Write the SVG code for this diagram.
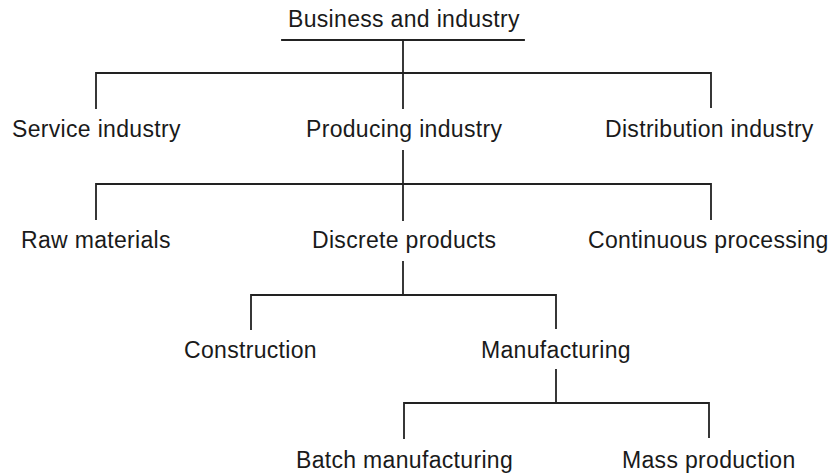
<svg xmlns="http://www.w3.org/2000/svg" width="832" height="474" viewBox="0 0 832 474">
  <style>
    .lbl { font-family: "Liberation Sans", Arial, Helvetica, sans-serif; font-size: 23px; letter-spacing: 0.32px; fill: #1a1a1a; }
    .conn { stroke: #222; stroke-width: 1.8; fill: none; stroke-linecap: square; }
  </style>
  <rect width="832" height="474" fill="#fff"/>

  <!-- tree connectors -->
  <g id="connectors" class="conn">
    <line x1="282" y1="40" x2="524" y2="40"/>
    <path d="M403 40 V108"/>
    <path d="M96 108 V73 H711 V107"/>
    <path d="M403 151 V220"/>
    <path d="M96 219 V184 H711 V219"/>
    <path d="M403 262 V295"/>
    <path d="M251 329 V295 H556 V328"/>
    <path d="M556 370 V403"/>
    <path d="M404 438 V403 H709 V437"/>
  </g>

  <g id="business-and-industry"><text class="lbl" x="288" y="27">Business and industry</text></g>
  <g id="service-industry"><text class="lbl" x="12" y="137">Service industry</text></g>
  <g id="producing-industry"><text class="lbl" x="306" y="137">Producing industry</text></g>
  <g id="distribution-industry"><text class="lbl" x="605" y="137">Distribution industry</text></g>
  <g id="raw-materials"><text class="lbl" x="21" y="248">Raw materials</text></g>
  <g id="discrete-products"><text class="lbl" x="312" y="248">Discrete products</text></g>
  <g id="continuous-processing"><text class="lbl" x="588" y="248">Continuous processing</text></g>
  <g id="construction"><text class="lbl" x="184" y="358">Construction</text></g>
  <g id="manufacturing"><text class="lbl" x="481" y="358">Manufacturing</text></g>
  <g id="batch-manufacturing"><text class="lbl" x="296" y="468">Batch manufacturing</text></g>
  <g id="mass-production"><text class="lbl" x="622" y="468">Mass production</text></g>
</svg>
